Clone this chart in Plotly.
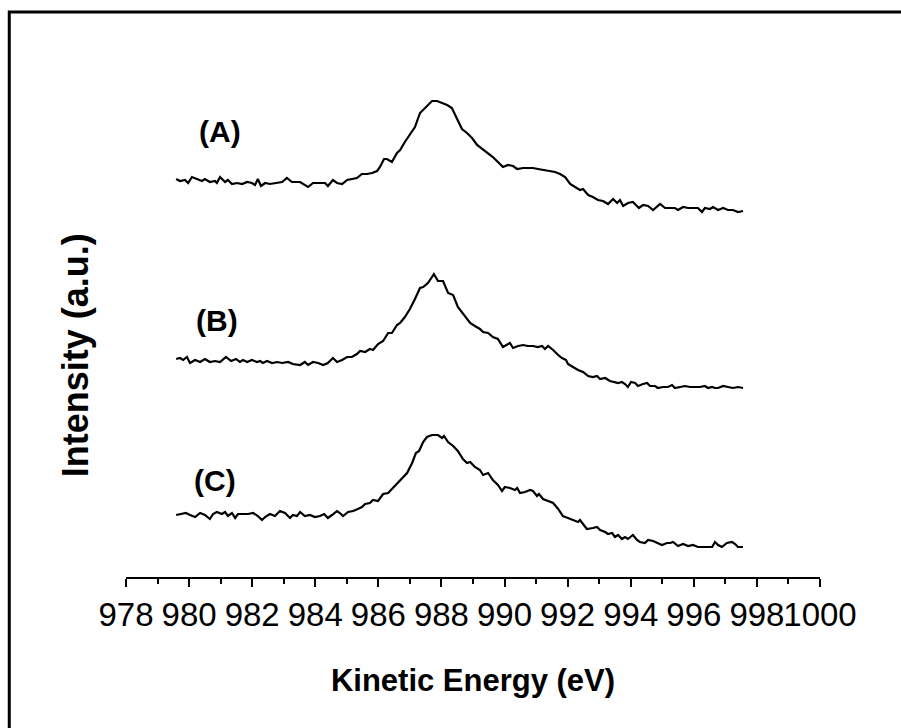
import plotly.graph_objects as go

# Spectrum A (top trace): kinetic energy (eV) and stacked intensity (a.u.)
energy_a = [979.59, 979.71, 979.87, 979.97, 980.09, 980.25, 980.41, 980.50, 980.66, 980.82,
            980.88, 980.98, 981.14, 981.23, 981.36, 981.52, 981.68, 981.84, 981.99, 982.09,
            982.18, 982.28, 982.41, 982.56, 982.79, 982.95, 983.10, 983.26, 983.52, 983.67,
            983.77, 983.93, 984.15, 984.31, 984.40, 984.56, 984.69, 984.85, 985.01, 985.16,
            985.32, 985.48, 985.64, 985.80, 985.96, 986.05, 986.18, 986.27, 986.43, 986.59,
            986.69, 986.84, 987.00, 987.16, 987.32, 987.48, 987.57, 987.70, 987.86, 988.02,
            988.18, 988.33, 988.49, 988.65, 988.81, 988.97, 989.13, 989.29, 989.44, 989.63,
            989.79, 989.95, 990.11, 990.27, 990.40, 990.59, 990.74, 990.90, 991.06, 991.22,
            991.44, 991.60, 991.76, 991.92, 992.08, 992.23, 992.39, 992.49, 992.65, 992.80,
            992.96, 993.12, 993.28, 993.44, 993.57, 993.66, 993.76, 993.91, 994.07, 994.26,
            994.39, 994.55, 994.71, 994.93, 995.09, 995.25, 995.40, 995.50, 995.66, 995.82,
            995.97, 996.13, 996.26, 996.35, 996.51, 996.61, 996.77, 996.93, 997.08, 997.24,
            997.40, 997.56]
intensity_a = [398, 396, 397, 394, 400, 398, 396, 398, 395, 396,
               394, 400, 395, 397, 393, 394, 393, 395, 394, 392,
               398, 391, 394, 393, 394, 395, 399, 395, 395, 392,
               390, 394, 394, 394, 391, 397, 394, 393, 397, 398,
               399, 403, 403, 404, 406, 410, 418, 418, 415, 424,
               427, 435, 442, 450, 464, 469, 471, 476, 476, 474,
               472, 469, 458, 448, 444, 439, 432, 428, 424, 420,
               415, 410, 412, 411, 408, 409, 409, 409, 408, 407,
               406, 405, 403, 400, 393, 390, 387, 388, 382, 380,
               377, 376, 373, 378, 374, 377, 371, 374, 375, 369,
               372, 371, 367, 373, 369, 369, 369, 367, 370, 369,
               369, 369, 365, 369, 368, 370, 367, 369, 367, 367,
               365, 366]

# Spectrum B (middle trace)
energy_b = [979.59, 979.71, 979.81, 979.93, 980.03, 980.19, 980.35, 980.50, 980.66, 980.82,
            980.98, 981.17, 981.33, 981.49, 981.61, 981.71, 981.84, 981.99, 982.15, 982.25,
            982.34, 982.47, 982.63, 982.79, 982.95, 983.14, 983.29, 983.52, 983.67, 983.77,
            983.93, 984.09, 984.25, 984.40, 984.56, 984.69, 984.85, 985.01, 985.16, 985.32,
            985.42, 985.58, 985.73, 985.83, 985.99, 986.15, 986.31, 986.43, 986.59, 986.69,
            986.84, 987.00, 987.16, 987.32, 987.42, 987.57, 987.70, 987.76, 987.89, 988.05,
            988.21, 988.37, 988.52, 988.65, 988.81, 988.91, 989.06, 989.22, 989.32, 989.48,
            989.63, 989.79, 989.95, 990.17, 990.27, 990.43, 990.59, 990.74, 990.90, 991.06,
            991.19, 991.28, 991.38, 991.54, 991.70, 991.82, 991.95, 992.01, 992.17, 992.33,
            992.49, 992.65, 992.80, 992.93, 993.03, 993.19, 993.34, 993.50, 993.60, 993.72,
            993.82, 993.91, 994.01, 994.14, 994.23, 994.39, 994.52, 994.61, 994.77, 994.86,
            995.02, 995.18, 995.31, 995.40, 995.56, 995.72, 995.88, 996.04, 996.20, 996.35,
            996.45, 996.58, 996.67, 996.77, 996.93, 997.08, 997.24, 997.40, 997.56]
intensity_b = [218, 219, 217, 220, 214, 217, 215, 218, 215, 216,
               215, 220, 216, 218, 215, 217, 215, 217, 215, 216,
               214, 216, 214, 215, 214, 215, 213, 212, 215, 212,
               215, 214, 212, 214, 219, 215, 217, 220, 220, 223,
               226, 225, 228, 227, 233, 236, 244, 244, 252, 254,
               260, 268, 278, 289, 290, 294, 300, 303, 296, 296,
               284, 282, 270, 265, 259, 254, 251, 248, 245, 244,
               240, 238, 230, 234, 229, 231, 232, 231, 231, 230,
               231, 228, 231, 227, 222, 219, 217, 213, 210, 207,
               205, 201, 200, 201, 198, 199, 196, 195, 194, 195,
               193, 190, 195, 194, 191, 193, 194, 191, 191, 189,
               190, 190, 192, 189, 190, 191, 190, 190, 190, 191,
               189, 190, 189, 189, 191, 190, 189, 190, 189]

# Spectrum C (bottom trace)
energy_c = [979.59, 979.78, 979.90, 980.03, 980.19, 980.35, 980.50, 980.66, 980.76, 980.88,
            981.04, 981.14, 981.23, 981.36, 981.46, 981.55, 981.71, 981.87, 982.03, 982.18,
            982.31, 982.41, 982.56, 982.72, 982.88, 983.04, 983.20, 983.29, 983.42, 983.52,
            983.67, 983.83, 983.99, 984.15, 984.28, 984.40, 984.53, 984.69, 984.78, 984.88,
            985.04, 985.20, 985.35, 985.48, 985.58, 985.73, 985.83, 985.99, 986.15, 986.31,
            986.46, 986.62, 986.78, 986.91, 987.07, 987.19, 987.29, 987.42, 987.54, 987.70,
            987.89, 988.02, 988.08, 988.21, 988.37, 988.52, 988.68, 988.81, 988.91, 989.06,
            989.22, 989.32, 989.48, 989.63, 989.79, 989.92, 990.01, 990.17, 990.33, 990.40,
            990.49, 990.65, 990.81, 990.90, 991.03, 991.09, 991.22, 991.38, 991.54, 991.70,
            991.85, 992.01, 992.17, 992.33, 992.39, 992.49, 992.61, 992.80, 992.93, 993.03,
            993.19, 993.28, 993.41, 993.50, 993.60, 993.72, 993.82, 993.91, 994.07, 994.20,
            994.29, 994.45, 994.55, 994.71, 994.83, 994.99, 995.15, 995.25, 995.34, 995.50,
            995.66, 995.82, 995.97, 996.13, 996.29, 996.45, 996.58, 996.67, 996.77, 996.89,
            997.05, 997.21, 997.31, 997.40, 997.56]
intensity_c = [62, 63, 64, 62, 60, 64, 62, 58, 63, 65,
               63, 65, 61, 64, 59, 63, 63, 63, 64, 61,
               57, 60, 63, 61, 66, 64, 59, 62, 61, 65,
               61, 62, 60, 61, 63, 59, 62, 66, 64, 61,
               65, 66, 68, 70, 73, 74, 77, 76, 83, 84,
               89, 94, 100, 104, 114, 124, 126, 135, 140, 142,
               142, 139, 141, 135, 131, 126, 118, 114, 115, 110,
               107, 102, 104, 97, 92, 86, 90, 89, 87, 89,
               84, 85, 87, 86, 81, 83, 78, 76, 74, 68,
               61, 59, 57, 55, 57, 53, 48, 49, 50, 47,
               45, 43, 44, 40, 42, 38, 40, 38, 42, 37,
               35, 34, 37, 36, 34, 32, 34, 34, 35, 31,
               33, 31, 32, 30, 30, 30, 30, 35, 32, 30,
               34, 35, 33, 30, 30]

# Trace labels and where they sit (eV, a.u.)
labels = ["(A)", "(B)", "(C)"]
label_energy = [980.98, 980.88, 980.82]
label_intensity = [446, 257, 97]

x_ticks = list(range(978, 1001, 2))

FONT = "Liberation Sans, Arial, sans-serif"

fig = go.Figure()
for ex, iy in [(energy_a, intensity_a), (energy_b, intensity_b), (energy_c, intensity_c)]:
    fig.add_trace(go.Scatter(x=ex, y=iy, mode="lines",
                             line=dict(color="black", width=2.2),
                             showlegend=False, hoverinfo="skip"))

for txt, lx, ly in zip(labels, label_energy, label_intensity):
    fig.add_annotation(x=lx, y=ly, text="<b>%s</b>" % txt, showarrow=False,
                       font=dict(family=FONT, size=30, color="black"),
                       xanchor="center", yanchor="middle")

# Vertical axis title
fig.add_annotation(xref="paper", yref="paper", x=-0.0715, y=0.427,
                   text="<b>Intensity (a.u.)</b>", textangle=-90, showarrow=False,
                   font=dict(family=FONT, size=36, color="black"),
                   xanchor="center", yanchor="middle")

# Outer frame around the figure
fig.add_shape(type="rect", xref="paper", yref="paper",
              x0=-0.1682, x1=1.13, y0=-0.31, y1=1.0865,
              line=dict(color="black", width=3), fillcolor="rgba(0,0,0,0)")

fig.update_layout(
    width=901, height=728,
    margin=dict(l=126, r=81, t=57, b=151, autoexpand=False),
    paper_bgcolor="white", plot_bgcolor="white",
    font=dict(family=FONT, color="black"),
    xaxis=dict(
        range=[978, 1000], tickmode="array", tickvals=x_ticks,
        ticktext=[str(v) for v in x_ticks], tickangle=0,
        ticks="outside", ticklen=8, tickwidth=1.5, tickcolor="black",
        minor=dict(dtick=1, tick0=978, ticks="outside", ticklen=5,
                   tickwidth=1.5, tickcolor="black"),
        showline=True, linecolor="black", linewidth=1.5,
        showgrid=False, zeroline=False,
        tickfont=dict(family=FONT, size=33, color="black"),
        title=dict(text="<b>Kinetic Energy (eV)</b>", standoff=37,
                   font=dict(family=FONT, size=31, color="black")),
    ),
    yaxis=dict(
        range=[0, 520], showline=False, showticklabels=False, ticks="",
        showgrid=False, zeroline=False,
    ),
)

fig.write_html("out.html")
